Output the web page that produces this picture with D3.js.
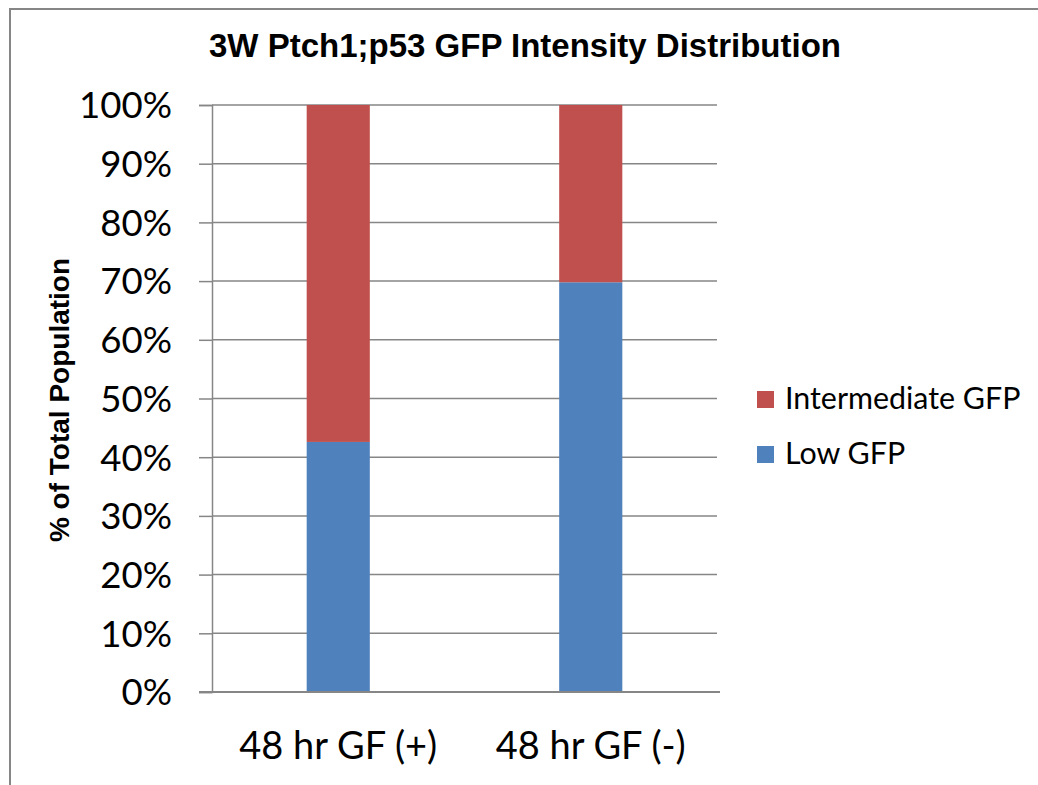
<!DOCTYPE html>
<html>
<head>
<meta charset="utf-8">
<script src="https://cdn.jsdelivr.net/npm/d3@7"></script>
<style>
  html, body { margin: 0; padding: 0; background: #fff; }
  svg { display: block; }
</style>
</head>
<body>
<svg id="chart" width="1038" height="785"></svg>
<script>
// ---- data ----
const categories = ["48 hr GF (+)", "48 hr GF (-)"];
const seriesNames = ["Low GFP", "Intermediate GFP"];
const lowGFP = [42.6, 69.8];
const intermediateGFP = [57.4, 30.2];
const yTicks = [0, 10, 20, 30, 40, 50, 60, 70, 80, 90, 100];
const titleText = "3W Ptch1;p53 GFP Intensity Distribution";
const yTitleText = "% of Total Population";

// ---- layout ----
const W = 1038, H = 785;
const plot = { left: 212, right: 717, top: 105, bottom: 692 };
const colors = { "Low GFP": "#4F81BD", "Intermediate GFP": "#C0504D" };
const gridColor = "#868686";
const bodyFont = "Lato, 'Open Sans', sans-serif";
const boldFont = "'Liberation Sans', Arial, sans-serif";

const svg = d3.select("#chart");

// Calibri substitute scaling: measure "100%" to match the reference width
const probe = svg.append("text").attr("font-family", bodyFont).attr("font-size", 100).text("100%");
const probeW = probe.node().getComputedTextLength();
probe.remove();
const k = (2.236 * 100) / probeW;
const tickSize = 41.6 * k;
const catSize = tickSize * 1.037;
const legendSize = 32.6 * k * 1.06;

// outer frame
svg.append("rect")
  .attr("x", 10).attr("y", 9).attr("width", W + 20).attr("height", H + 20)
  .attr("fill", "#fff").attr("stroke", gridColor).attr("stroke-width", 2);

const x = d3.scaleBand().domain(categories).range([plot.left, plot.right]).padding(0);
const y = d3.scaleLinear().domain([0, 100]).range([plot.bottom, plot.top]);

// gridlines + y axis
const yAxis = d3.axisLeft(y).tickValues(yTicks).tickFormat(d => d + "%")
  .tickSize(13).tickPadding(27);
const gy = svg.append("g").attr("transform", `translate(${plot.left},0)`).call(yAxis);
gy.select(".domain").attr("stroke", gridColor).attr("stroke-width", 1.5);
gy.selectAll(".tick line").attr("stroke", gridColor).attr("stroke-width", 1.5);
gy.selectAll(".tick text").attr("font-family", bodyFont).attr("font-size", tickSize)
  .attr("fill", "#000").attr("dy", "0.35em");
svg.append("g").selectAll("line").data(yTicks.filter(d => d > 0)).join("line")
  .attr("x1", plot.left).attr("x2", plot.right)
  .attr("y1", d => y(d)).attr("y2", d => y(d))
  .attr("stroke", gridColor).attr("stroke-width", 1.5);

// stacked bars
const rows = categories.map((c, i) => ({ cat: c, "Low GFP": lowGFP[i], "Intermediate GFP": intermediateGFP[i] }));
const stack = d3.stack().keys(seriesNames)(rows);
const barW = x.bandwidth() * 0.25;
svg.append("g").selectAll("g").data(stack).join("g")
  .attr("fill", d => colors[d.key])
  .selectAll("rect").data(d => d).join("rect")
  .attr("x", d => x(d.data.cat) + (x.bandwidth() - barW) / 2)
  .attr("width", barW)
  .attr("y", d => y(d[1]))
  .attr("height", d => y(d[0]) - y(d[1]));

// x axis
const xAxis = d3.axisBottom(x).tickSize(0).tickPadding(0);
const gx = svg.append("g").attr("transform", `translate(0,${plot.bottom})`).call(xAxis);
gx.select(".domain").remove();
svg.append("line").attr("x1", 199).attr("x2", 720)
  .attr("y1", plot.bottom).attr("y2", plot.bottom)
  .attr("stroke", gridColor).attr("stroke-width", 2);
gx.selectAll(".tick text").attr("font-family", bodyFont).attr("font-size", catSize)
  .attr("fill", "#000").attr("dy", 0).attr("y", 67);

// title
svg.append("text").attr("x", 525).attr("y", 57).attr("text-anchor", "middle")
  .attr("font-family", boldFont).attr("font-weight", "bold").attr("font-size", 33)
  .text(titleText);

// y title
svg.append("text").attr("transform", "translate(69,400) rotate(-90)")
  .attr("text-anchor", "middle")
  .attr("font-family", boldFont).attr("font-weight", "bold").attr("font-size", 28)
  .text(yTitleText);

// legend (Intermediate on top)
const legendItems = ["Intermediate GFP", "Low GFP"];
const lg = svg.append("g").selectAll("g").data(legendItems).join("g")
  .attr("transform", (d, i) => `translate(757,${391 + i * 55})`);
lg.append("rect").attr("width", 17).attr("height", 17).attr("fill", d => colors[d]);
lg.append("text").attr("x", 28).attr("y", 18)
  .attr("font-family", bodyFont).attr("font-size", legendSize).attr("fill", "#000")
  .text(d => d);
</script>
</body>
</html>
